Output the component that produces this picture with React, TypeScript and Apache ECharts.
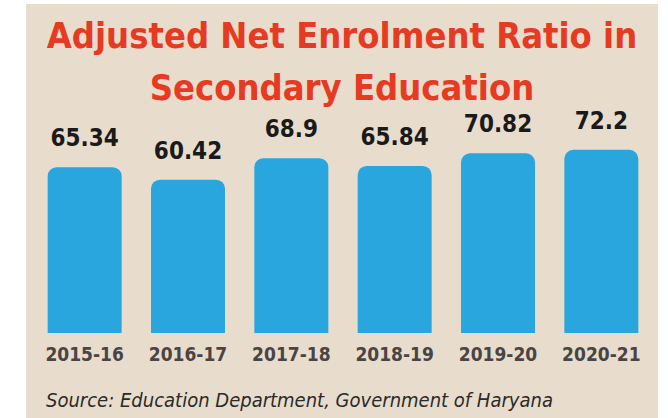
import React, { useEffect, useRef } from "react";
import * as echarts from "echarts";

const categories = ["2015-16", "2016-17", "2017-18", "2018-19", "2019-20", "2020-21"];
const ratioValues = [65.34, 60.42, 68.9, 65.84, 70.82, 72.2];
const titleLines = ["Adjusted Net Enrolment Ratio in", "Secondary Education"];
const sourceText = "Source: Education Department, Government of Haryana";

export default function App() {
  const ref = useRef<HTMLDivElement>(null);
  useEffect(() => {
    document.body.style.margin = "0";
    const chart = echarts.init(ref.current!, null, { renderer: "svg" });
    const cond = "'DejaVu Sans Condensed', 'DejaVu Sans', sans-serif";
    chart.setOption({
      animation: false,
      backgroundColor: "#ffffff",
      graphic: [
        {
          type: "rect",
          z: -10,
          silent: true,
          shape: { x: 26, y: 4, width: 632, height: 414 },
          style: { fill: "#e8ddcc" },
        },
        {
          type: "text",
          x: 342,
          y: 35,
          style: {
            text: titleLines[0],
            fill: "#e63a22",
            font: `bold 36px ${cond}`,
            textAlign: "center",
            textVerticalAlign: "middle",
          },
        },
        {
          type: "text",
          x: 342,
          y: 87,
          style: {
            text: titleLines[1],
            fill: "#e63a22",
            font: `bold 36px ${cond}`,
            textAlign: "center",
            textVerticalAlign: "middle",
          },
        },
        {
          type: "text",
          x: 46,
          y: 400,
          style: {
            text: sourceText,
            fill: "#2a2a2a",
            font: `italic 20px ${cond}`,
            textAlign: "left",
            textVerticalAlign: "middle",
          },
        },
      ],
      grid: { left: 33, right: 15, top: 130, bottom: 85, containLabel: false },
      xAxis: {
        type: "category",
        data: categories,
        axisLine: { show: false },
        axisTick: { show: false },
        axisLabel: {
          interval: 0,
          margin: 11,
          color: "#4a4444",
          fontFamily: cond,
          fontWeight: "bold",
          fontSize: 19,
        },
      },
      yAxis: {
        type: "value",
        min: 0,
        max: 80,
        show: false,
        splitLine: { show: false },
      },
      series: [
        {
          type: "bar",
          data: ratioValues,
          barWidth: 74,
          itemStyle: { color: "#2aa6df", borderRadius: [9, 9, 0, 0] },
          label: {
            show: true,
            position: "top",
            distance: 17,
            color: "#1a1a1a",
            fontFamily: cond,
            fontWeight: "bold",
            fontSize: 24,
          },
        },
      ],
    });
    return () => chart.dispose();
  }, []);
  return <div ref={ref} style={{ width: 668, height: 418 }} />;
}
